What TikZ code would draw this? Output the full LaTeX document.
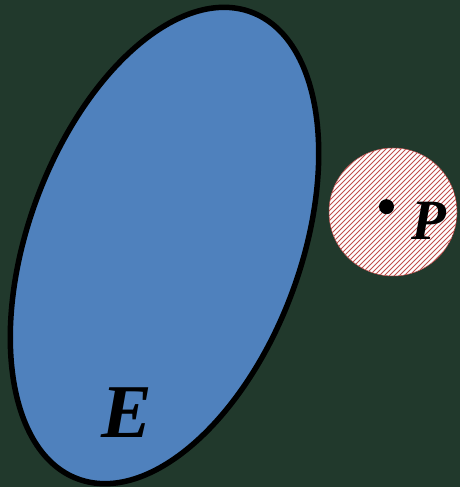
\documentclass[tikz,border=0pt]{standalone}
\usepackage{fontspec}
\setmainfont{Liberation Serif}
\usetikzlibrary{calc}
\definecolor{bggreen}{RGB}{33,57,44}
\definecolor{ellblue}{RGB}{79,129,189}
\definecolor{hatchred}{RGB}{192,80,77}
\tikzset{
  setlabel/.style={font=\fontsize{#1}{#1}\selectfont\bfseries\itshape, text=black, inner sep=0pt, anchor=base},
  hatchline/.style={hatchred, line width=1pt},
}
\begin{document}
\begin{tikzpicture}[x=1pt,y=1pt]
  \fill[bggreen] (0,0) rectangle (460,487);
  \useasboundingbox (0,0) rectangle (460,487);
  % ellipse E
  \draw[line width=5.5pt, fill=ellblue] (164.5,241.5) ellipse[x radius=249pt, y radius=136pt, rotate=69.6];
  \node[setlabel=76] (E) at (127,49) {E};
  % hatched disc P
  \coordinate (pc) at (393,275);
  \begin{scope}
    \clip (pc) circle[radius=64pt];
    \fill[white] (pc) circle[radius=64pt];
    \foreach \i in {-160,-155,...,160} {
      \draw[hatchline] ($(pc)+(\i-80,-80)$) -- ($(pc)+(\i+80,80)$);
    }
  \end{scope}
  \draw[hatchred, line width=0.5pt] (pc) circle[radius=64pt];
  \fill[black] (386.5,280.3) circle[radius=7.5pt];
  \node[setlabel=57] (P) at (429,247) {P};
\end{tikzpicture}
\end{document}
